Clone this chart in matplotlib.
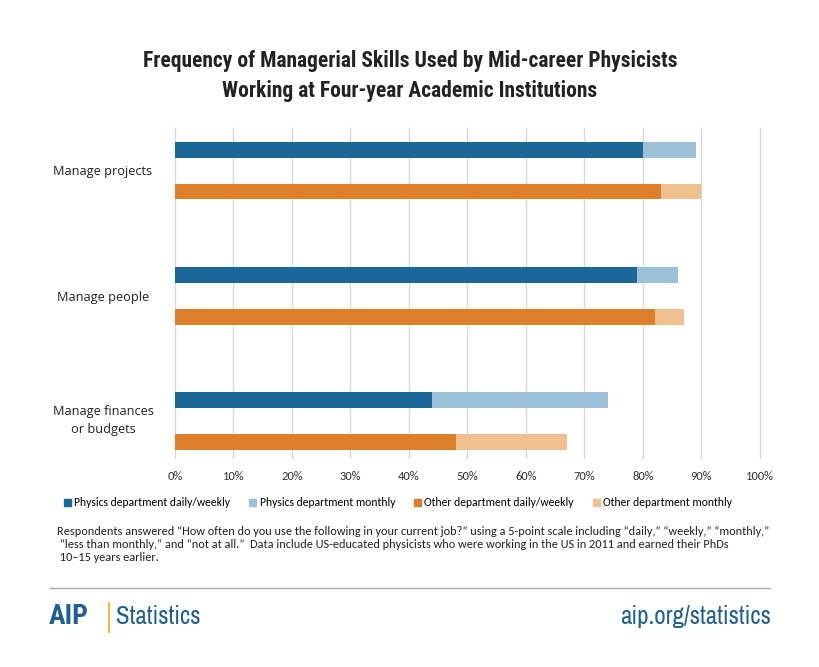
import matplotlib
matplotlib.use('Agg')
import matplotlib.pyplot as plt
from matplotlib.patches import Patch
from matplotlib.lines import Line2D
import numpy as np

categories = ['Manage projects', 'Manage people', 'Manage finances\nor budgets']
phys_daily = [80, 79, 44]
phys_monthly = [9, 7, 30]
other_daily = [83, 82, 48]
other_monthly = [7, 5, 19]
xticks = [0, 10, 20, 30, 40, 50, 60, 70, 80, 90, 100]

c_dblue = '#1b6898'
c_lblue = '#9bc2d8'
c_dorange = '#de7f2a'
c_lorange = '#f0c08f'
aip_blue = '#1f5f92'

narrow = ['Archivo Narrow', 'DejaVu Sans']
cond = ['Roboto Condensed', 'Archivo Narrow', 'DejaVu Sans']
calibri = ['Carlito', 'DejaVu Sans']

fig = plt.figure(figsize=(8.2, 6.67), dpi=100)
ax = fig.add_axes([175/820, 1-458/667, 585/820, 330/667])

pos_phys = np.array([0, 3, 6])
pos_other = pos_phys + 1
h = 0.38

ax.barh(pos_phys, phys_daily, height=h, color=c_dblue, zorder=3)
ax.barh(pos_phys, phys_monthly, left=phys_daily, height=h, color=c_lblue, zorder=3)
ax.barh(pos_other, other_daily, height=h, color=c_dorange, zorder=3)
ax.barh(pos_other, other_monthly, left=other_daily, height=h, color=c_lorange, zorder=3)

ax.set_xlim(0, 100)
ax.set_ylim(7.38, -0.52)
ax.set_xticks(xticks)
ax.set_xticklabels([f'{t}%' for t in xticks], fontsize=9, color='#333333', family=calibri)
ax.set_yticks([])
ax.tick_params(axis='x', length=0, pad=9)
for s in ax.spines.values():
    s.set_visible(False)
ax.grid(axis='x', color='#d9d9d9', linewidth=1, zorder=0)
for gl in ax.get_xgridlines():
    gl.set_clip_on(False)

for i, cat in enumerate(categories):
    fig.text(103/820, 1 - [171, 297, 421][i]/667, cat, ha='center', va='center',
             fontsize=9.2, color='#222222', linespacing=1.5, family=['Open Sans', 'DejaVu Sans'])

fig.text(410/820, 1-61/667, 'Frequency of Managerial Skills Used by Mid-career Physicists',
         ha='center', va='center', fontsize=15.5, family=cond, color='#222222', weight='bold')
fig.text(410/820, 1-91/667, 'Working at Four-year Academic Institutions',
         ha='center', va='center', fontsize=15.5, family=cond, color='#222222', weight='bold')

handles = [Patch(color=c) for c in (c_dblue, c_lblue, c_dorange, c_lorange)]
labels = ['Physics department daily/weekly', 'Physics department monthly',
          'Other department daily/weekly', 'Other department monthly']
fig.legend(handles, labels, loc='center', bbox_to_anchor=(398/820, 1-503/667), ncol=4,
           frameon=False, prop={'family': calibri, 'size': 8.4}, handlelength=0.6,
           handleheight=0.6, handletextpad=0.3, columnspacing=1.6)

note = ('Respondents answered \u201cHow often do you use the following in your current job?\u201d using a 5-point scale including \u201cdaily,\u201d \u201cweekly,\u201d \u201cmonthly,\u201d\n'
        ' \u201cless than monthly,\u201d and \u201cnot at all.\u201d  Data include US-educated physicists who were working in the US in 2011 and earned their PhDs\n'
        ' 10\u201315 years earlier.')
fig.text(57/820, 1-526/667, note, ha='left', va='top', fontsize=8.8, family=calibri,
         color='#222222', linespacing=1.22)

fig.add_artist(Line2D([50/820, 770/820], [1-588/667, 1-588/667], color='#aaaaaa', lw=1))

fig.text(49/820, 1-617/667, 'AIP', ha='left', va='center', fontsize=20, color=aip_blue,
         family=cond, weight='bold')
fig.add_artist(Line2D([109/820, 109/820], [1-603/667, 1-632/667], color='#f2b417', lw=1.3))
fig.text(116/820, 1-617/667, 'Statistics', ha='left', va='center', fontsize=18,
         color=aip_blue, family=narrow)
fig.text(771/820, 1-617/667, 'aip.org/statistics', ha='right', va='center', fontsize=18,
         color=aip_blue, family=narrow)

fig.savefig('out.png', dpi=100)
